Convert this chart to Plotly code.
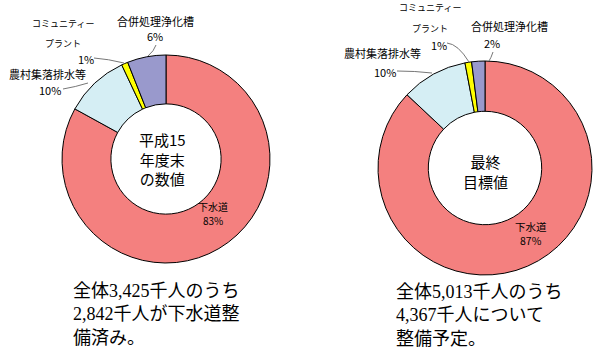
import plotly.graph_objects as go

categories = ["下水道", "農村集落排水等", "コミュニティープラント", "合併処理浄化槽"]
values_h15 = [83, 10, 1, 6]
values_final = [87, 10, 1, 2]
colors = ["#F4807F", "#D5EEF4", "#FFFF00", "#9999CC"]

center_left = "平成15<br>年度末<br>の数値"
center_right = "最終<br>目標値"
bottom_left = [("全体", "3,425", "千人のうち"), ("", "2,842", "千人が下水道整"), ("備済み。", "", "")]
bottom_right = [("全体", "5,013", "千人のうち"), ("", "4,367", "千人について"), ("整備予定。", "", "")]

W, H = 600, 355
JP = "Noto Sans CJK JP, Noto Sans, sans-serif"
SERIF = "Liberation Serif, DejaVu Serif, serif"


def px(x):
    return x / W


def py(y):
    return 1 - y / H


fig = go.Figure()
for vals, dom in [
    (values_h15, dict(x=[px(62), px(270)], y=[py(263), py(55)])),
    (values_final, dict(x=[px(378), px(592)], y=[py(275), py(61)])),
]:
    fig.add_trace(go.Pie(
        labels=categories, values=vals, sort=False, direction="clockwise",
        rotation=0, hole=0.53, domain=dom, textinfo="none", hoverinfo="skip",
        marker=dict(colors=colors, line=dict(color="black", width=1)),
        showlegend=False,
    ))


def ann(x, y, text, size, xanchor="center", align="center", family=JP):
    fig.add_annotation(x=px(x), y=py(y), xref="paper", yref="paper", text=text,
                       showarrow=False, xanchor=xanchor, yanchor="middle", align=align,
                       font=dict(family=family, size=size, color="black"))


def num(s):
    return f'<span style="font-family:{SERIF}">{s}</span>' if s else ""


# left chart labels
ann(63, 23, "コミュニティー", 9)
ann(63, 43, "プラント", 9)
ann(86, 59, f"{values_h15[2]}%", 11)
ann(47, 74.5, categories[1], 11)
ann(50, 89.5, f"{values_h15[1]}%", 11)
ann(155, 21, categories[3], 11)
ann(155, 36, f"{values_h15[3]}%", 11)
ann(213, 206, categories[0], 10)
ann(213, 221, f"{values_h15[0]}%", 10)
ann(162, 159, center_left, 15)

# right chart labels
ann(430, 8, "コミュニティー", 9)
ann(430, 28, "プラント", 9)
ann(439, 45, f"{values_final[2]}%", 11)
ann(509, 26, categories[3], 11)
ann(492, 43, f"{values_final[3]}%", 11)
ann(382, 53, categories[1], 11)
ann(385, 72, f"{values_final[1]}%", 11)
ann(531, 226, categories[0], 10.5)
ann(531, 240.5, f"{values_final[0]}%", 10.5)
ann(485, 171, center_right, 15)

# bottom texts
for (x0, yc, lines) in [(71, 312, bottom_left), (394, 313, bottom_right)]:
    text = "<br>".join(f"{a}{num(n)}{b}" for a, n, b in lines)
    ann(x0, yc, text, 18, xanchor="left", align="left")

# leader lines
leaders = [
    [(94, 58), (108, 59), (124, 63)],
    [(156, 45), (154, 51), (148, 56)],
    [(63, 89), (75, 87), (88, 83)],
    [(447, 43), (458, 44), (469, 62)],
    [(493, 52), (491, 58), (489, 61)],
    [(397, 71), (415, 71), (432, 73)],
]
for pts in leaders:
    (x0, y0), (x1, y1), (x2, y2) = pts
    path = f"M {px(x0)} {py(y0)} Q {px(x1)} {py(y1)} {px(x2)} {py(y2)}"
    fig.add_shape(type="path", xref="paper", yref="paper", path=path,
                  line=dict(color="#777777", width=1))

fig.update_layout(width=W, height=H, margin=dict(l=0, r=0, t=0, b=0),
                  paper_bgcolor="white", plot_bgcolor="white")
fig.write_html("out.html", config={"displayModeBar": False},
               post_script="document.body.style.margin='0';")
